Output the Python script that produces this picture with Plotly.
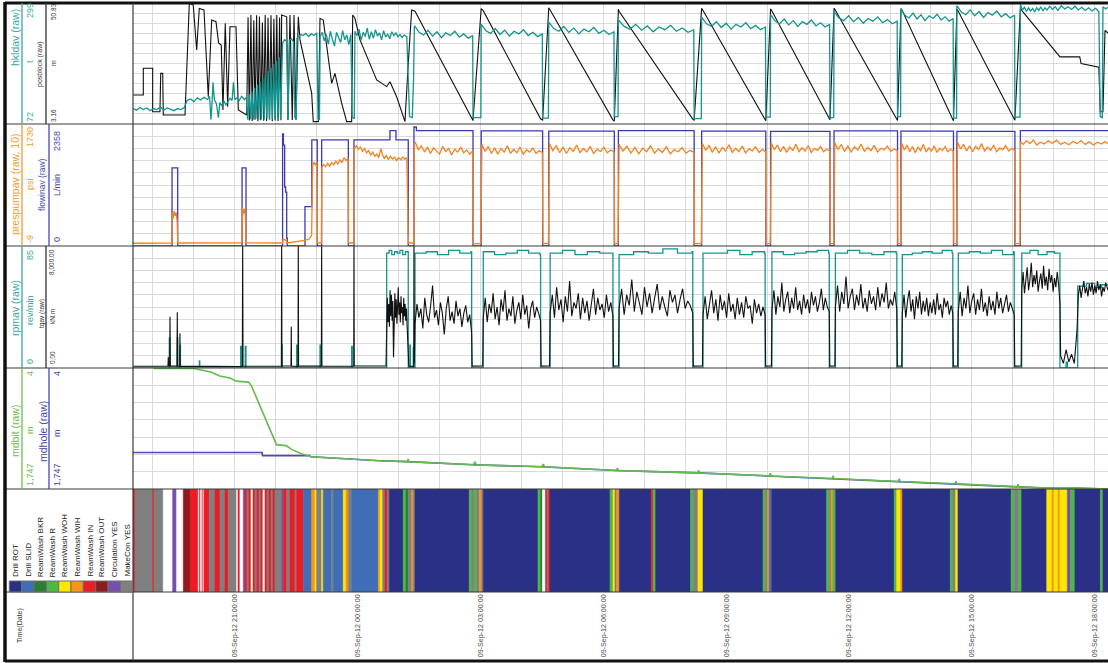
import numpy as np
import plotly.graph_objects as go

W, H = 1108, 663
FONT = "Arial, Liberation Sans, sans-serif"

# ---------------------------------------------------------------
# Time axis: minutes after 18:00 on the first logged day
# ---------------------------------------------------------------
X_RANGE = [30.8, 1459.4]
HOUR_GRID = list(range(60, 1441, 60))
TICK_MIN = [180, 360, 540, 720, 900, 1080, 1260, 1440]
TICK_TEXT = ["09-Sep-12 21:00:00", "09-Sep-12 00:00:00", "09-Sep-12 03:00:00",
             "09-Sep-12 06:00:00", "09-Sep-12 09:00:00", "09-Sep-12 12:00:00",
             "09-Sep-12 15:00:00", "09-Sep-12 18:00:00"]

# value ranges of each channel
RNG_HKL = [72, 299]
RNG_POS = [3.16, 50.83]
RNG_PP = [-9, 1730]
RNG_FLOW = [0, 2358]
RNG_RPM = [0, 85]
RNG_TQ = [0, 8000]
RNG_MD = [1747, 4]

# ---------------------------------------------------------------
# Trip-in / wash-down period (before regular drilling)
# ---------------------------------------------------------------
POS_HEAD = [(31.2, 14.6), (45.9, 14.6), (45.9, 25.1), (59.6, 25.1), (59.6, 8.0), (70.3, 8.0),
            (71.4, 23.1), (74.3, 23.1), (75.2, 6.7), (107, 6.7), (113.3, 50.7), (119.1, 50.0),
            (124.1, 32.3), (127.9, 48.7), (134.8, 48.1), (141.1, 13.9), (146.1, 44.1), (152.4, 43.5),
            (156.3, 35.0), (160.1, 34.3), (162.6, 8.7), (166, 42.8), (169.5, 10.0), (172.9, 41.5),
            (181.7, 41.5), (185.1, 8.7), (197.4, 6.7),
            (199.4, 45.2), (201.3, 4.5), (203.6, 46.1), (205.4, 4.3), (207.8, 44.0), (209.6, 4.8),
            (211.9, 46.0), (213.8, 4.2), (216.1, 45.5), (218, 4.6), (220.4, 43.1), (222.2, 4.4),
            (224.5, 46.1), (226.5, 4.3), (228.7, 45.0), (230.6, 4.9), (233, 46.0), (234.9, 4.2),
            (237.2, 44.6), (239.1, 4.5), (241.5, 46.1), (243.3, 4.3), (245.6, 45.1), (247.5, 4.6),
            (248.6, 46.1), (256, 45.4), (257.9, 4.7), (260.8, 46.1), (264.2, 4.7), (266.7, 46.1),
            (269.6, 4.7), (273, 45.4), (275.5, 36.3), (292.6, 15.3), (294.9, 4.1), (302.3, 4.1),
            (304.8, 44.8), (309.6, 44.1), (321.9, 19.2), (326.7, 23.1), (336.6, 11.3), (343.9, 4.1),
            (351.2, 4.1), (352.7, 46.1), (356, 44.8), (363.4, 36.3), (387.8, 20.5), (402.5, 17.9),
            (407.3, 19.8), (417.1, 13.9), (429.3, 4.1), (434.1, 27.1), (439.1, 48.1), (444, 47.6)]

HKL_HEAD = [(31, 101), (36, 98), (41, 103), (46, 99), (51, 102), (56, 97), (61, 101), (66, 99),
            (71, 104), (76, 98), (81, 102), (86, 100), (91, 97), (96, 101), (101, 99), (106, 103),
            (110, 116), (115, 119), (120, 114), (125, 121), (130, 117), (135, 122), (140, 118),
            (143, 124), (145, 80), (147, 120), (148, 150), (150, 118), (153, 110), (156, 84),
            (158, 112), (161, 106), (164, 115), (167, 108), (170, 113), (173, 120), (176, 116),
            (178, 150), (180, 118), (183, 121), (186, 115), (190, 124), (194, 118), (197, 122),
            (199, 80), (201, 128), (203, 81), (205, 133), (207, 80), (209, 140), (211, 82), (213, 146),
            (215, 80), (217, 152), (219, 81), (221, 158), (223, 80), (225, 165), (227, 82), (229, 171),
            (231, 80), (233, 177), (235, 81), (237, 184), (239, 80), (241, 190), (243, 82), (245, 197),
            (247, 80), (249, 205), (250, 224), (253, 230), (256, 227), (258, 80), (260, 229),
            (263, 232), (266, 226), (268, 84), (270, 82), (271, 233), (274, 236), (277, 240), (280, 238),
            (284, 242), (288, 236), (292, 241), (296, 238), (300, 243), (302, 82), (304, 80),
            (305, 236), (308, 244), (311, 228), (314, 240), (317, 222), (320, 246), (323, 231),
            (326, 218), (329, 244), (332, 236), (335, 225), (338, 247), (341, 230), (344, 239),
            (347, 221), (350, 240), (352, 85), (355, 82), (356, 246), (359, 238), (362, 250),
            (365, 229), (368, 244), (371, 236), (374, 252), (377, 231), (380, 245), (383, 233),
            (386, 249), (389, 237), (392, 243), (395, 230), (398, 247), (401, 235), (404, 241),
            (407, 232), (410, 245), (413, 238), (416, 243), (419, 236), (422, 240), (425, 234),
            (428, 239), (432, 236), (434, 150), (436, 86), (440, 84), (442, 160), (443, 254)]

PP_HEAD = [(30.8, 30), (60, 32), (87.5, 34), (88.3, 470), (89.5, 380), (91, 490), (92.5, 420),
           (94, 470), (95.5, 350), (96.4, 34), (130, 36), (160, 33), (190.2, 35), (191, 540),
           (192.5, 450), (194, 520), (195.5, 410), (196.5, 35), (249.8, 34), (250.8, 90),
           (255.5, 70), (256.5, 34), (282.5, 70), (289, 90), (292.5, 140), (294, 1145), (296, 1180),
           (298, 1150), (300.4, 1190), (301, 34), (306.8, 34), (307.5, 1110), (310, 1150),
           (313, 1120), (316, 1170), (319, 1130), (322, 1180), (325, 1150), (328, 1200), (331, 1160),
           (334, 1220), (337, 1180), (340, 1250), (343, 1210), (346, 1240), (346.6, 34), (354.4, 34),
           (355, 1380), (358, 1420), (361, 1370), (364, 1400), (367, 1340), (370, 1380), (373, 1320),
           (376, 1350), (379, 1290), (382, 1330), (385, 1270), (388, 1300), (391, 1250), (394, 1380),
           (396, 1300), (399, 1240), (402, 1280), (405, 1220), (408, 1270), (411, 1230), (414, 1260),
           (417, 1210), (420, 1250), (423, 1220), (426, 1260), (429, 1230), (432, 1250), (434.3, 34),
           (442.4, 34), (443, 1450)]

FLOW_HEAD = [(30.8, 0), (88, 1510), (96.3, 0), (190.6, 1510), (196.4, 0), (250, 2165), (251.2, 1950),
             (253, 1140), (254.5, 1040), (256, 150), (256.8, 0), (282.8, 760), (292.8, 2050),
             (300.8, 0), (307.2, 2050), (346.3, 0), (354.6, 2050), (407.3, 2230), (416.1, 2050),
             (434.1, 0), (442.5, 2300), (446, 2230)]

RPM_HEAD = [(30.8, 0), (84, 21), (84.8, 0), (95.7, 21), (96.5, 0), (99.6, 16), (100.3, 0),
            (128, 5), (128.6, 0), (188.5, 15), (189.5, 0), (195.3, 15), (196.3, 0), (248.6, 16),
            (249.5, 0), (270.6, 16), (271.5, 0), (304.8, 16), (305.7, 0), (351.2, 15), (352.1, 0),
            (402.5, 80), (406, 82), (410, 79), (414, 81), (418, 80), (422, 82), (426, 79), (430, 81),
            (434.1, 0), (436.5, 16), (437.3, 0), (441.5, 14), (442.3, 0)]

TQ_HEAD = [(30.8, 110), (82, 120), (82.5, 720), (83, 120), (84.5, 130), (85, 3360), (85.5, 140),
           (95.2, 120), (95.7, 3650), (96.2, 130), (99.2, 110), (99.6, 2275), (100, 120), (191, 100),
           (191.5, 8500), (192, 110), (248.2, 120), (248.6, 8500), (249, 130), (262.3, 140),
           (262.7, 2710), (263.1, 120), (272.6, 110), (273, 8500), (273.4, 120), (306.8, 130),
           (307.2, 8500), (307.6, 120), (354.2, 110), (354.6, 8500), (355, 130), (401.5, 140),
           (402.5, 2800), (403.5, 4600), (404.5, 3000), (405.5, 4200), (406.5, 2700), (407.5, 5100),
           (408.5, 3400), (409.5, 4800), (410.5, 3100), (411.5, 4400), (412.5, 700), (413.5, 3600),
           (414.5, 4900), (415.5, 3300), (416.5, 4500), (417.5, 2900), (418.5, 4100), (419.5, 5300),
           (420.5, 3500), (421.5, 4300), (422.5, 3000), (423.5, 4700), (424.5, 3600), (425.5, 4000),
           (426.5, 2800), (427.5, 4600), (428.5, 3400), (429.5, 4200), (430.5, 3100), (431.5, 3900),
           (432.5, 2700), (434.1, 1500), (435, 120), (442.1, 110), (442.5, 8500), (443, 300)]

# ---------------------------------------------------------------
# Drilling stands: rotation on/off and pumps off/on at each connection
# ---------------------------------------------------------------
STAND_ON = [444, 544, 642, 743, 866, 967, 1060, 1158, 1240]
STAND_OFF = [527, 628, 734, 851, 957, 1051, 1150, 1232, 1322]
FLOW_OFF = [529, 631, 736, 853, 958, 1052, 1151, 1233, 1323]
FLOW_ON = [541, 640, 742, 864, 965, 1058, 1156, 1238, 1331]
HEAD_FLOW_ON = 443.5
TAIL_ON = 1333

POS_LOW = [5.0, 5.2, 4.8, 5.1, 4.9, 5.3, 5.0, 4.9, 5.1]
POS_HIGH = [48.6, 48.9, 48.4, 48.7, 48.5, 48.8, 48.6, 48.4, 48.7]
HKL_SLIPS = [84, 83, 86, 82, 85, 84, 86, 83, 85]
FLOW_LEVEL = [2225, 2220, 2230, 2220, 2215, 2225, 2220, 2215, 2230]

HKL_STAND = [
    [256, 244, 239, 248, 237, 245, 234, 243, 238, 246, 235, 241, 233, 238],
    [259, 247, 242, 251, 240, 248, 237, 246, 241, 249, 238, 244, 236, 241],
    [263, 251, 246, 255, 244, 252, 241, 250, 245, 253, 242, 248, 240, 245],
    [267, 255, 250, 259, 248, 256, 245, 254, 249, 257, 246, 252, 244, 249],
    [272, 260, 255, 264, 253, 261, 250, 259, 254, 262, 251, 257, 249, 254],
    [277, 265, 260, 269, 258, 266, 255, 264, 259, 267, 256, 262, 254, 259],
    [283, 271, 266, 275, 264, 272, 261, 270, 265, 273, 262, 268, 260, 265],
    [288, 276, 271, 280, 269, 277, 266, 275, 270, 278, 267, 273, 265, 270],
    [294, 282, 277, 286, 275, 283, 272, 281, 276, 284, 273, 279, 271, 276]]

PP_STAND = [
    [1470, 1360, 1420, 1330, 1400, 1310, 1390, 1350, 1300, 1410, 1340, 1380, 1290, 1370, 1330, 1400, 1320, 1360, 1300, 1350],
    [1440, 1340, 1410, 1310, 1390, 1300, 1380, 1330, 1420, 1310, 1370, 1320, 1400, 1300, 1360, 1330, 1390, 1310, 1350, 1320],
    [1450, 1350, 1420, 1320, 1400, 1310, 1390, 1340, 1430, 1320, 1380, 1330, 1410, 1310, 1370, 1340, 1400, 1320, 1360, 1330],
    [1440, 1345, 1415, 1315, 1395, 1305, 1385, 1335, 1420, 1315, 1375, 1325, 1405, 1305, 1365, 1335, 1395, 1315, 1355, 1325],
    [1455, 1355, 1425, 1325, 1405, 1315, 1395, 1345, 1435, 1325, 1385, 1335, 1415, 1315, 1375, 1345, 1405, 1325, 1365, 1335],
    [1460, 1365, 1430, 1335, 1410, 1325, 1400, 1355, 1440, 1335, 1390, 1345, 1420, 1325, 1380, 1355, 1410, 1335, 1370, 1345],
    [1465, 1370, 1435, 1340, 1415, 1330, 1405, 1360, 1445, 1340, 1395, 1350, 1425, 1330, 1385, 1360, 1415, 1340, 1375, 1350],
    [1460, 1360, 1430, 1335, 1410, 1320, 1400, 1350, 1440, 1330, 1390, 1345, 1420, 1325, 1380, 1350, 1410, 1335, 1370, 1345],
    [1470, 1375, 1440, 1345, 1420, 1335, 1410, 1365, 1450, 1345, 1400, 1355, 1430, 1335, 1390, 1365, 1420, 1345, 1380, 1355]]

RPM_STAND = [
    [80, 81, 79, 82, 80, 81], [81, 79, 80, 82, 80, 79], [80, 82, 79, 81, 80, 80],
    [79, 81, 80, 83, 80, 81], [80, 80, 82, 79, 81, 80], [81, 79, 80, 81, 82, 80],
    [80, 82, 80, 79, 81, 80], [79, 80, 81, 80, 82, 80], [80, 81, 80, 82, 79, 81]]

TQ_STAND = [
    [2900, 4200, 3300, 3900, 2600, 4600, 3500, 3000, 4100, 5400, 3300, 3800, 2800, 4300, 3600,
     2200, 3900, 4700, 3100, 3700, 2900, 4400, 3400, 3900, 2700, 3600, 4100, 3000, 3500, 2300],
    [3300, 4600, 3000, 4200, 3600, 4900, 3200, 4000, 2800, 4500, 3700, 5100, 3100, 3900, 3400,
     4700, 2900, 3800, 4300, 3200, 4800, 3500, 4100, 2600, 3900, 4400, 3300, 4000, 3600, 3100],
    [3600, 4800, 3300, 5300, 3800, 4500, 3000, 4700, 3700, 5700, 3400, 4300, 3900, 4900, 3200,
     4600, 3600, 4400, 3100, 4000, 5200, 3500, 4600, 3800, 4200, 3300, 4800, 3700, 4300, 3400],
    [3900, 5200, 3500, 4800, 4100, 5800, 3700, 5000, 4200, 3500, 5300, 4000, 4900, 3600, 4600,
     5500, 3800, 4700, 4000, 3400, 5100, 4300, 4800, 3600, 4500, 5200, 3900, 4400, 4100, 3600],
    [3500, 4700, 3200, 4300, 5100, 3600, 4500, 3100, 4800, 3800, 4400, 3300, 4900, 3700, 4200,
     3200, 4600, 3500, 4300, 3300, 4700, 3900, 4100, 2900, 4500, 3600, 4200, 3400, 4000, 3500],
    [3800, 5100, 3500, 4700, 4000, 5600, 3700, 4500, 5000, 3600, 4600, 3900, 5300, 3800, 4400,
     3500, 4800, 3900, 4500, 3600, 5000, 4100, 4700, 3700, 4300, 5200, 3800, 4600, 4000, 3700],
    [4000, 5400, 3700, 5000, 4200, 6000, 3900, 4700, 5200, 3800, 4800, 4100, 5500, 3900, 4600,
     3700, 5100, 4200, 4700, 3800, 5300, 4000, 4900, 4300, 5600, 3900, 4500, 4100, 5000, 3800],
    [3600, 4800, 3300, 4400, 5100, 3700, 4500, 3200, 4700, 3900, 5000, 3500, 4400, 3700, 4600,
     3400, 4300, 3600, 4500, 3500, 4900, 3800, 4200, 3300, 4600, 4000, 4400, 3500, 4100, 3600],
    [3700, 5000, 3400, 4600, 3900, 5400, 3600, 4400, 4900, 3500, 4500, 3800, 5200, 3700, 4300,
     3400, 4700, 3800, 4400, 3500, 5000, 3900, 4600, 3600, 4200, 4800, 3700, 4300, 3900, 3500]]

# ---------------------------------------------------------------
# Last stand, reaming and the start of the following stand
# ---------------------------------------------------------------
POS_TAIL = [(1389, 29.6), (1418, 29.6), (1420, 27), (1446, 25.5), (1448, 8), (1452, 8),
            (1455, 40), (1459.4, 39)]
HKL_TAIL = [(1331, 296), (1334, 286), (1337, 291), (1340, 283), (1343, 290), (1346, 284),
            (1349, 289), (1352, 282), (1355, 290), (1358, 285), (1361, 292), (1364, 284),
            (1367, 290), (1370, 286), (1374, 293), (1378, 287), (1382, 292), (1386, 285),
            (1391, 294), (1396, 288), (1401, 292), (1406, 287), (1411, 293), (1416, 286),
            (1421, 291), (1426, 285), (1431, 290), (1436, 284), (1441, 289), (1446, 283),
            (1448, 86), (1451, 84), (1452, 292), (1456, 288), (1459.4, 291)]
PP_TAIL = [(1331, 1480), (1335, 1440), (1340, 1490), (1345, 1450), (1350, 1500), (1355, 1430),
           (1360, 1470), (1366, 1445), (1372, 1490), (1378, 1455), (1384, 1500), (1390, 1440),
           (1396, 1470), (1402, 1435), (1408, 1480), (1414, 1450), (1420, 1495), (1426, 1440),
           (1432, 1475), (1438, 1430), (1444, 1470), (1450, 1445), (1455, 1480), (1459.4, 1450)]
RPM_TAIL = [(1333, 80), (1345, 82), (1357, 79), (1370, 81), (1381, 80), (1389, 0), (1398, 4),
            (1400, 0), (1415, 57), (1428, 59), (1440, 56), (1450, 58), (1459.4, 58)]
TQ_TAIL = [(1333, 5200), (1335, 6300), (1337, 4900), (1339, 5900), (1341, 6600), (1343, 5100),
           (1345, 5800), (1347, 6900), (1349, 5300), (1351, 6100), (1353, 5500), (1355, 6400),
           (1357, 5000), (1359, 5700), (1361, 6200), (1363, 5200), (1365, 6700), (1367, 5400),
           (1369, 6000), (1371, 5100), (1373, 6500), (1375, 5600), (1377, 6100), (1379, 5000),
           (1381, 5900), (1383, 5300), (1385, 6300), (1387, 5500), (1389, 4200), (1390, 800),
           (1394, 300), (1398, 1200), (1402, 400), (1406, 900), (1410, 300), (1414, 2500),
           (1416, 4800), (1418, 5400), (1420, 4600), (1422, 5200), (1424, 5700), (1426, 4900),
           (1428, 5300), (1430, 4700), (1432, 5500), (1434, 5000), (1436, 5600), (1438, 4800),
           (1440, 5400), (1442, 4900), (1444, 5700), (1446, 5100), (1448, 5500), (1450, 4700),
           (1452, 5300), (1454, 5000), (1456, 5600), (1459.4, 5100)]

# ---------------------------------------------------------------
# Measured depths (m)
# ---------------------------------------------------------------
MDBIT = [(61, 10), (120, 12), (145, 62), (158, 120), (173, 149), (182, 193), (200, 207),
         (204.5, 265), (241, 1108), (255, 1122), (263.7, 1180), (277.7, 1239), (291.6, 1282),
         (337, 1311), (392, 1340), (433, 1352), (434, 1315), (435, 1355), (529, 1398), (532, 1360),
         (534, 1400), (629.6, 1427), (632, 1390), (634, 1429), (739.3, 1481), (740.5, 1445),
         (742, 1482), (858.2, 1515), (859.5, 1478), (861, 1516), (963.2, 1558), (964.5, 1520),
         (966, 1559), (1055, 1595), (1056.5, 1558), (1058, 1596), (1152, 1638), (1153.5, 1600),
         (1155, 1639), (1235, 1672), (1236.5, 1635), (1238, 1673), (1326, 1715), (1327.5, 1678),
         (1329, 1716), (1370, 1735), (1411, 1735), (1459.4, 1747)]
MDHOLE = [(30.8, 1222), (220, 1222), (220.5, 1266), (289, 1266), (291.6, 1282), (337, 1311),
          (392, 1340), (433, 1352), (529, 1398), (629.6, 1427), (739.3, 1481), (858.2, 1515),
          (963.2, 1558), (1055, 1595), (1152, 1638), (1235, 1672), (1326, 1715), (1370, 1735),
          (1411, 1735), (1459.4, 1747)]

# ---------------------------------------------------------------
# Rig activity (start minute, activity code); each lasts until the next start
# ---------------------------------------------------------------
ACTIVITY_NAMES = ["Drill ROT", "Drill SLID", "ReamWash BKR", "ReamWash R", "ReamWash WOH",
                  "ReamWash WIH", "ReamWash IN", "ReamWash OUT", "Circulation YES", "MakeCon YES"]
ACTIVITY_COLORS = ["#2B3087", "#3F6DB6", "#2C7E34", "#4DB848", "#FFE600",
                   "#F7941E", "#ED1C24", "#8E1B1E", "#7650AE", "#808080"]
NO_ACTIVITY = "#FFFFFF"
BANDS = [(30.8, 7), (33.7, 10), (59.6, 7), (61.5, 10), (75.2, 0), (88.9, 9), (94.8, 0),
         (104.5, 8), (114.3, 7), (126.4, 0), (128.1, 7), (129.9, 0), (131.9, 7), (133.3, 0),
         (134.8, 7), (142.6, 10), (150.9, 7), (158.2, 10), (165.6, 7), (170.4, 10), (182.7, 0),
         (184.6, 7), (187.5, 0), (192.4, 9), (194.9, 7), (197.8, 10), (200.7, 7), (203.7, 0),
         (206.6, 7), (209.5, 10), (212.5, 7), (215.4, 10), (218.3, 7), (221.2, 0), (224.2, 7),
         (227.1, 10), (230, 7), (233, 10), (235.9, 7), (238.8, 10), (248.6, 9), (251, 7),
         (256, 10), (260.8, 7), (268.1, 10), (270.6, 7), (280.3, 2), (292.6, 6), (297.4, 5),
         (299.9, 10), (307.2, 5), (309.6, 2), (321.9, 10), (324.2, 2), (338.9, 5), (342.9, 6),
         (346.2, 10), (351.2, 2), (390.2, 6), (392.7, 5), (396.6, 10), (400, 7), (403.4, 10),
         (406.3, 1), (426.8, 4), (430.8, 3), (434.1, 10), (439.1, 6), (441.5, 10), (444, 1),
         (523.5, 4), (527, 10), (530.4, 4), (534.4, 10), (538.2, 6), (541.7, 10), (544, 1),
         (624.2, 4), (628, 3), (630.8, 0), (635.2, 7), (637.4, 10), (639.6, 7), (641.8, 1),
         (729.7, 4), (734.1, 5), (737, 10), (739.5, 6), (743.4, 1), (790, 7), (792.7, 4),
         (796.6, 1), (847.8, 4), (851.6, 10), (858.6, 5), (866, 1), (953.9, 4), (957.7, 10),
         (960.4, 6), (963.1, 2), (967, 1), (1047.2, 4), (1051, 10), (1053.5, 6), (1056.4, 4),
         (1060.4, 1), (1146.1, 4), (1149.9, 5), (1155.4, 6), (1158.2, 1), (1228.4, 4),
         (1232.2, 10), (1236.2, 5), (1239.6, 1), (1317.5, 4), (1321.9, 10), (1328.5, 4),
         (1332.9, 1), (1369.7, 5), (1377.3, 6), (1380.2, 5), (1386.1, 6), (1389, 5), (1399.9, 9),
         (1404.3, 4), (1410.9, 1), (1448.3, 4), (1452.1, 1)]
BAND_END = 1459.4

# ---------------------------------------------------------------
# Assemble the channels
# ---------------------------------------------------------------
NEXT_ON = STAND_ON[1:] + [TAIL_ON]
PREV_FLOW_ON = [HEAD_FLOW_ON] + FLOW_ON[:-1]


def spread(t0, t1, vals):
    """Sample times for readings logged evenly across one stand."""
    return list(zip(np.linspace(t0, t1, len(vals)), vals))


pos = list(POS_HEAD)
hkl = list(HKL_HEAD)
pp = list(PP_HEAD)
flow = list(FLOW_HEAD)
rpm = list(RPM_HEAD)
tq = list(TQ_HEAD)
for i in range(len(STAND_ON)):
    pos += [(STAND_OFF[i], POS_LOW[i]), (FLOW_OFF[i], POS_LOW[i] - 0.5),
            (FLOW_ON[i], POS_HIGH[i]), (NEXT_ON[i], POS_HIGH[i] - 0.8)]
    hkl += spread(PREV_FLOW_ON[i], FLOW_OFF[i] - 0.5, HKL_STAND[i])
    hkl += [(FLOW_OFF[i], HKL_SLIPS[i]), (FLOW_ON[i] - 0.5, HKL_SLIPS[i])]
    pp += spread(PREV_FLOW_ON[i] + 1, FLOW_OFF[i] - 0.3, PP_STAND[i])
    pp += [(FLOW_OFF[i] + 0.5, 25), (FLOW_ON[i] - 0.5, 25)]
    flow += [(FLOW_OFF[i], 0), (FLOW_ON[i], FLOW_LEVEL[i])]
    rpm += spread(STAND_ON[i], STAND_OFF[i] - 1, RPM_STAND[i]) + [(STAND_OFF[i], 0)]
    tq += spread(STAND_ON[i], STAND_OFF[i], TQ_STAND[i])
    tq += [(STAND_OFF[i] + 0.8, 120), (NEXT_ON[i] - 0.8, 130)]
pos += POS_TAIL
hkl += HKL_TAIL
pp += PP_TAIL
flow += [(X_RANGE[1], FLOW_LEVEL[-1])]
rpm += RPM_TAIL
tq += TQ_TAIL


def xy(pairs):
    t, v = zip(*pairs)
    return list(t), list(v)


# ---------------------------------------------------------------
# Figure
# ---------------------------------------------------------------
TEAL = "#13958F"
BLACK = "#111111"
ORANGE = "#F5821F"
BLUE = "#3A3AB2"
GREEN = "#63BC4E"
MDBLUE = "#4D4DB5"
GRID = "#DADADA"

fig = go.Figure()


def line(pairs, color, width, xa, ya, shape="linear"):
    t, v = xy(pairs)
    fig.add_trace(go.Scatter(x=t, y=v, mode="lines", xaxis=xa, yaxis=ya, hoverinfo="skip",
                             line=dict(color=color, width=width, shape=shape)))


line(pos, BLACK, 1.1, "x", "y")
line(hkl, TEAL, 1.3, "x", "y6")
line(flow, BLUE, 1.3, "x2", "y2", "hv")
line(pp, ORANGE, 1.3, "x2", "y7")
line(rpm, TEAL, 1.3, "x3", "y3", "hv")
line(tq, BLACK, 1.1, "x3", "y8")
line(MDHOLE, MDBLUE, 1.6, "x4", "y4")
line(MDBIT, GREEN, 1.6, "x4", "y9")

starts = [s for s, _ in BANDS]
ends = starts[1:] + [BAND_END]
band_colors = [ACTIVITY_COLORS[c - 1] if c else NO_ACTIVITY for _, c in BANDS]
fig.add_trace(go.Bar(x=[e - s for s, e in zip(starts, ends)], base=starts, y=[0] * len(starts),
                     orientation="h", width=1, xaxis="x5", yaxis="y5", hoverinfo="skip",
                     marker=dict(color=band_colors, line=dict(color=band_colors, width=0.6))))


def pyf(y):
    return 1 - y / H


DOMAINS = [[pyf(124), pyf(3)], [pyf(246), pyf(124)], [pyf(368), pyf(246)],
           [pyf(489), pyf(368)], [pyf(592), pyf(489)]]
XDOM = [133 / W, 1]


def grid(lo, hi, n):
    return list(np.linspace(lo, hi, n + 1))[1:-1]


xcommon = dict(range=X_RANGE, domain=XDOM, showgrid=True, gridcolor=GRID, gridwidth=1,
               tickvals=HOUR_GRID, showticklabels=False, ticks="", zeroline=False,
               showline=False, fixedrange=True)
ybase = dict(showticklabels=False, ticks="", zeroline=False, showline=False, showgrid=True,
             gridcolor=GRID, gridwidth=1, fixedrange=True)
yover = dict(showticklabels=False, ticks="", zeroline=False, showline=False, showgrid=False,
             fixedrange=True, side="right")

layout = dict(
    width=W, height=H, margin=dict(l=0, r=0, t=0, b=0), showlegend=False,
    paper_bgcolor="white", plot_bgcolor="white", barmode="overlay", hovermode=False,
    font=dict(family=FONT),
    xaxis=dict(anchor="y", **xcommon),
    xaxis2=dict(anchor="y2", matches="x", **xcommon),
    xaxis3=dict(anchor="y3", matches="x", **xcommon),
    xaxis4=dict(anchor="y4", matches="x", **xcommon),
    xaxis5=dict(anchor="y5", matches="x", range=X_RANGE, domain=XDOM, showgrid=False,
                tickvals=TICK_MIN, ticktext=TICK_TEXT, tickangle=-90, ticks="", zeroline=False,
                showline=False, tickfont=dict(size=7.1, color="#4A4A4A", family=FONT),
                fixedrange=True),
    yaxis=dict(domain=DOMAINS[0], range=RNG_POS, tickvals=grid(*RNG_POS, 12), **ybase),
    yaxis6=dict(overlaying="y", anchor="x", range=RNG_HKL, **yover),
    yaxis2=dict(domain=DOMAINS[1], range=RNG_FLOW, tickvals=grid(*RNG_FLOW, 10), **ybase),
    yaxis7=dict(overlaying="y2", anchor="x2", range=RNG_PP, **yover),
    yaxis3=dict(domain=DOMAINS[2], range=RNG_RPM, tickvals=grid(*RNG_RPM, 10), **ybase),
    yaxis8=dict(overlaying="y3", anchor="x3", range=RNG_TQ, **yover),
    yaxis4=dict(domain=DOMAINS[3], range=RNG_MD, tickvals=grid(*RNG_MD, 7), **ybase),
    yaxis9=dict(overlaying="y4", anchor="x4", range=RNG_MD, **yover),
    yaxis5=dict(domain=DOMAINS[4], range=[-0.5, 0.5], visible=False, fixedrange=True),
)
fig.update_layout(**layout)

# ---------------------------------------------------------------
# Frame, separators and the channel header column
# ---------------------------------------------------------------
shapes = []


def seg(x0, y0, x1, y1, color, width):
    shapes.append(dict(type="line", xref="paper", yref="paper", x0=x0 / W, x1=x1 / W,
                       y0=pyf(y0), y1=pyf(y1), line=dict(color=color, width=width)))


for yb in [124, 246, 368, 489, 592]:
    seg(5, yb, W, yb, "#3A3A3A", 1.2)
seg(5, 3, W, 3, "#111111", 3)
seg(5, 661, W, 661, "#111111", 3)
seg(5, 2, 5, 662, "#111111", 3.5)
seg(133, 3, 133, 661, "#3A3A3A", 1.2)

TEAL_T = "#3AA7A3"
ORANGE_T = "#F59A30"
BLUE_T = "#4848B0"
GREEN_T = "#6DBE4B"
for (y0, y1), c1, x2, c2 in [((3, 124), TEAL_T, 46, "#333333"), ((124, 246), ORANGE_T, 49, BLUE_T),
                             ((246, 368), TEAL_T, 46, "#333333"), ((368, 489), GREEN_T, 49, BLUE_T)]:
    seg(22, y0, 22, y1, c1, 1.3)
    seg(x2, y0, x2, y1, c2, 1.3)

# legend swatches for the activity track
for i, col in enumerate(ACTIVITY_COLORS):
    x0 = 9.3 + 12.34 * i
    shapes.append(dict(type="rect", xref="paper", yref="paper", x0=x0 / W, x1=(x0 + 12.34) / W,
                       y0=pyf(592), y1=pyf(581), fillcolor=col, line=dict(color="#6E6E6E", width=1)))

fig.update_layout(shapes=shapes)


def label(text, x, y, color, size, yanchor="middle"):
    fig.add_annotation(text=text, x=x / W, y=pyf(y), xref="paper", yref="paper", showarrow=False,
                       textangle=-90, xanchor="center", yanchor=yanchor,
                       font=dict(size=size, color=color, family=FONT))


HEADERS = [
    ("hkldav (raw)", 15, 38, TEAL_T, 10.5), ("299", 30, 11, TEAL_T, 9), ("t", 30, 62, TEAL_T, 9),
    ("72", 30, 117, TEAL_T, 9), ("posblock (raw)", 40, 64, "#333333", 7),
    ("50.83", 53, 12, "#333333", 6.5), ("m", 53, 63, "#333333", 7), ("3.16", 53, 116, "#333333", 6.5),
    ("prespumpav (raw, 10)", 15, 184, ORANGE_T, 10.5), ("1730", 30, 137, ORANGE_T, 9),
    ("psi", 30, 184, ORANGE_T, 9), ("-9", 30, 239, ORANGE_T, 9),
    ("flowinav (raw)", 42, 185, BLUE_T, 8.5), ("2358", 57, 141, BLUE_T, 9),
    ("L/min", 57, 185, BLUE_T, 9), ("0", 57, 240, BLUE_T, 9),
    ("rpmav (raw)", 15, 308, TEAL_T, 10.5), ("85", 30, 255, TEAL_T, 9),
    ("rev/min", 30, 310, TEAL_T, 9), ("0", 30, 362, TEAL_T, 9),
    ("tqav (raw)", 42, 314, "#333333", 6.5), ("8,000.00", 52, 262, "#333333", 6.5),
    ("kN.m", 52, 317, "#333333", 6.5), ("0.00", 52, 358, "#333333", 6.5),
    ("mdbit (raw)", 15, 431, GREEN_T, 10.5), ("4", 30, 374, GREEN_T, 9),
    ("m", 30, 430, GREEN_T, 9), ("1,747", 30, 475, GREEN_T, 9),
    ("mdhole (raw)", 43, 432, BLUE_T, 10.5), ("4", 57, 374, BLUE_T, 9),
    ("m", 57, 433, BLUE_T, 9), ("1,747", 57, 475, BLUE_T, 9),
    ("Time(Date)", 20, 626, "#333333", 7),
]
for text, x, y, col, size in HEADERS:
    label(text, x, y, col, size)

for i, name in enumerate(ACTIVITY_NAMES):
    label(name, 9.3 + 12.34 * i + 6.17, 579, "#222222", 8, yanchor="bottom")

fig.write_html("out.html")
